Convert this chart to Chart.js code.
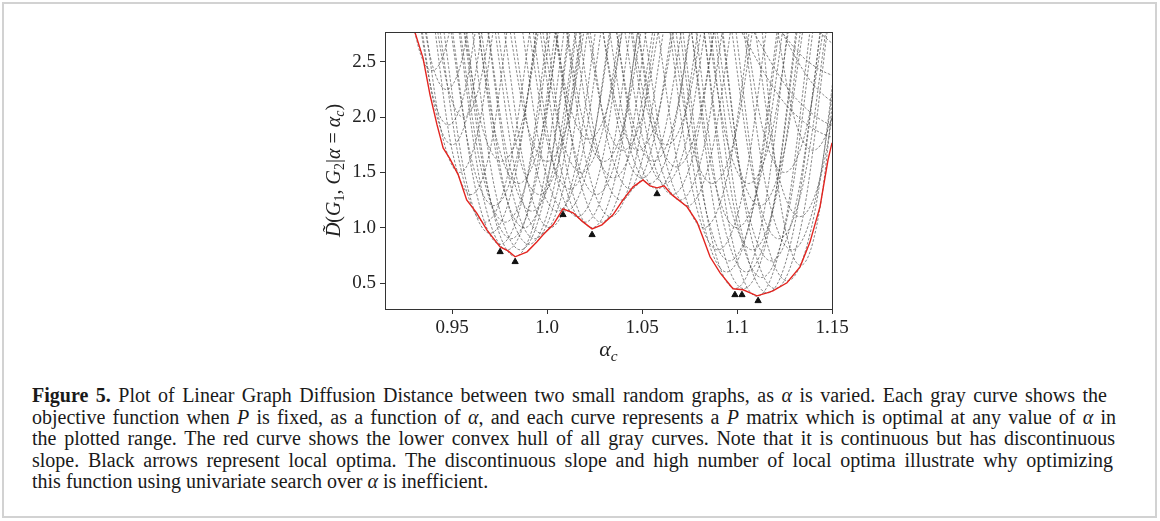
<!DOCTYPE html>
<html>
<head>
<meta charset="utf-8">
<script src="https://cdn.jsdelivr.net/npm/chart.js@4.4.1/dist/chart.umd.min.js"></script>
<style>
html, body { margin: 0; padding: 0; background: #fff; }
body { width: 1160px; height: 521px; position: relative; overflow: hidden; }
#frame { position: absolute; left: 2px; top: 2px; width: 1155px; height: 516px; border: 2px solid #d2d2d2; box-sizing: border-box; }
#chartBox { position: absolute; left: 0; top: 0; width: 1160px; height: 370px; }
#caption { position: absolute; left: 32px; top: 385px; font-family: "Liberation Serif", serif; font-size: 20px; line-height: 21.6px; color: #1a1a1a; }
#caption .ln { white-space: nowrap; }
#caption .ln span { display: inline-block; }
</style>
</head>
<body>
<div id="frame"></div>
<div id="chartBox"><canvas id="myChart"></canvas></div>
<div id="caption">
  <div class="ln"><span><b>Figure 5.</b> Plot of Linear Graph Diffusion Distance between two small random graphs, as <i>α</i> is varied. Each gray curve shows the</span></div>
  <div class="ln"><span>objective function when <i>P</i> is fixed, as a function of <i>α</i>, and each curve represents a <i>P</i> matrix which is optimal at any value of <i>α</i> in</span></div>
  <div class="ln"><span>the plotted range. The red curve shows the lower convex hull of all gray curves. Note that it is continuous but has discontinuous</span></div>
  <div class="ln"><span>slope. Black arrows represent local optima. The discontinuous slope and high number of local optima illustrate why optimizing</span></div>
  <div class="ln"><span>this function using univariate search over <i>α</i> is inefficient.</span></div>
</div>
<script>
// axis limits and ticks
var xMin = 0.9147, xMax = 1.15;
var yMin = 0.265, yMax = 2.77;
var xTickValues = [0.95, 1.0, 1.05, 1.1, 1.15];
var xTickLabels = ['0.95', '1.0', '1.05', '1.1', '1.15'];
var yTickValues = [0.5, 1.0, 1.5, 2.0, 2.5];
var yTickLabels = ['0.5', '1.0', '1.5', '2.0', '2.5'];

// red lower hull
var hullX = [0.9295, 0.9347, 0.9384, 0.9421, 0.9453, 0.9489, 0.9532, 0.9577, 0.9630, 0.9683,
    0.9753, 0.9795, 0.9832, 0.9895, 0.9947, 0.9979, 1.0032, 1.0084, 1.0137, 1.0189,
    1.0237, 1.0289, 1.0347, 1.0400, 1.0453, 1.0505, 1.0542, 1.0579, 1.0616, 1.0658,
    1.0737, 1.0789, 1.0821, 1.0858, 1.0911, 1.0979, 1.1032, 1.1105, 1.1158, 1.1189,
    1.1263, 1.1332, 1.1384, 1.1437, 1.1479, 1.1500];
var hullY = [2.82, 2.536, 2.202, 1.930, 1.722, 1.623, 1.480, 1.252, 1.132, 0.980,
    0.827, 0.790, 0.737, 0.782, 0.873, 0.936, 1.026, 1.171, 1.135, 1.053,
    0.990, 1.026, 1.117, 1.252, 1.370, 1.433, 1.379, 1.361, 1.379, 1.297,
    1.189, 1.053, 0.909, 0.737, 0.592, 0.448, 0.439, 0.384, 0.411, 0.429,
    0.502, 0.646, 0.870, 1.190, 1.614, 1.768];

// black arrows (local optima)
var optimaX = [0.9753, 0.9832, 1.0084, 1.0237, 1.0579, 1.0989, 1.1026, 1.1111];
var optimaY = [0.782, 0.692, 1.117, 0.936, 1.306, 0.393, 0.393, 0.339];

// gray curves, one per P matrix: points
var grayCurves = [
    [[0.9275, 3], [0.9335, 2.565], [0.9395, 2.42], [0.9455, 2.565], [0.9515, 3]],
    [[0.9333, 3], [0.9402, 2.4375], [0.947, 2.25], [0.9539, 2.4375], [0.9607, 3]],
    [[0.9316, 3], [0.9398, 2.1975], [0.948, 1.93], [0.9562, 2.1975], [0.9644, 3]],
    [[0.9323, 3], [0.9412, 2.0625], [0.95, 1.75], [0.9588, 2.0625], [0.9677, 3]],
    [[0.9346, 3], [0.9443, 1.875], [0.954, 1.5], [0.9637, 1.875], [0.9734, 3]],
    [[0.9394, 3], [0.9497, 1.725], [0.96, 1.3], [0.9703, 1.725], [0.9806, 3]],
    [[0.9402, 3], [0.9481, 2.25], [0.956, 2.0], [0.9639, 2.25], [0.9718, 3]],

    [[0.9418, 3], [0.9546, 1.5375], [0.9673, 1.05], [0.9801, 1.5375], [0.9928, 3]],
    [[0.9439, 3], [0.9569, 1.4625], [0.97, 0.95], [0.9831, 1.4625], [0.9961, 3]],
    [[0.9485, 3], [0.9619, 1.3875], [0.9753, 0.85], [0.9887, 1.3875], [1.0021, 3]],
    [[0.9519, 3], [0.9655, 1.35], [0.979, 0.8], [0.9925, 1.35], [1.0061, 3]],
    [[0.9558, 3], [0.9695, 1.305], [0.9832, 0.74], [0.9969, 1.305], [1.0107, 3]],
    [[0.9589, 3], [0.9725, 1.35], [0.986, 0.8], [0.9995, 1.35], [1.0131, 3]],
    [[0.9637, 3], [0.9771, 1.3875], [0.9905, 0.85], [1.0039, 1.3875], [1.0173, 3]],
    [[0.967, 3], [0.9803, 1.425], [0.9935, 0.9], [1.0067, 1.425], [1.02, 3]],
    [[0.9709, 3], [0.9839, 1.4625], [0.997, 0.95], [1.0101, 1.4625], [1.0231, 3]],
    [[0.9757, 3], [0.9886, 1.5], [1.0015, 1.0], [1.0144, 1.5], [1.0273, 3]],
    [[0.9807, 3], [0.9931, 1.6125], [1.0055, 1.15], [1.0179, 1.6125], [1.0303, 3]],
    [[0.9475, 3], [0.9598, 1.65], [0.972, 1.2], [0.9843, 1.65], [0.9965, 3]],
    [[0.9525, 3], [0.9653, 1.5375], [0.978, 1.05], [0.9908, 1.5375], [1.0035, 3]],
    [[0.9545, 3], [0.9678, 1.425], [0.981, 0.9], [0.9942, 1.425], [1.0075, 3]],
    [[0.9622, 3], [0.9751, 1.5], [0.988, 1.0], [1.0009, 1.5], [1.0138, 3]],
    [[0.9672, 3], [0.9796, 1.6125], [0.992, 1.15], [1.0044, 1.6125], [1.0168, 3]],
    [[0.9722, 3], [0.9841, 1.725], [0.996, 1.3], [1.0079, 1.725], [1.0198, 3]],
    [[0.9619, 3], [0.9735, 1.8], [0.985, 1.4], [0.9966, 1.8], [1.0081, 3]],
    [[0.9544, 3], [0.9652, 1.95], [0.976, 1.6], [0.9868, 1.95], [0.9976, 3]],
    [[0.9784, 3], [0.9892, 1.95], [1.0, 1.6], [1.0108, 1.95], [1.0216, 3]],

    [[0.9852, 3], [0.9976, 1.6125], [1.01, 1.15], [1.0224, 1.6125], [1.0348, 3]],
    [[0.9908, 3], [1.0034, 1.575], [1.016, 1.1], [1.0286, 1.575], [1.0412, 3]],
    [[0.9945, 3], [1.0073, 1.5375], [1.02, 1.05], [1.0328, 1.5375], [1.0455, 3]],
    [[0.9979, 3], [1.0108, 1.5], [1.0237, 1.0], [1.0366, 1.5], [1.0495, 3]],
    [[1.003, 3], [1.0158, 1.5375], [1.0285, 1.05], [1.0413, 1.5375], [1.054, 3]],
    [[1.0083, 3], [1.0209, 1.575], [1.0335, 1.1], [1.0461, 1.575], [1.0587, 3]],
    [[1.0149, 3], [1.0269, 1.6875], [1.039, 1.25], [1.0511, 1.6875], [1.0632, 3]],
    [[1.0206, 3], [1.0323, 1.7625], [1.044, 1.35], [1.0557, 1.7625], [1.0675, 3]],
    [[1.0273, 3], [1.0386, 1.8375], [1.05, 1.45], [1.0614, 1.8375], [1.0727, 3]],
    [[0.9886, 3], [1.0003, 1.7625], [1.012, 1.35], [1.0237, 1.7625], [1.0355, 3]],
    [[0.9956, 3], [1.0068, 1.875], [1.018, 1.5], [1.0292, 1.875], [1.0404, 3]],
    [[1.0022, 3], [1.0141, 1.725], [1.026, 1.3], [1.0379, 1.725], [1.0498, 3]],
    [[1.0084, 3], [1.0192, 1.95], [1.03, 1.6], [1.0408, 1.95], [1.0516, 3]],
    [[1.0123, 3], [1.0236, 1.8375], [1.035, 1.45], [1.0464, 1.8375], [1.0577, 3]],
    [[1.002, 3], [1.012, 2.1], [1.022, 1.8], [1.032, 2.1], [1.042, 3]],
    [[1.0192, 3], [1.0296, 2.025], [1.04, 1.7], [1.0504, 2.025], [1.0608, 3]],

    [[1.0345, 3], [1.0462, 1.7625], [1.0579, 1.35], [1.0696, 1.7625], [1.0814, 3]],
    [[1.0389, 3], [1.0505, 1.8], [1.062, 1.4], [1.0736, 1.8], [1.0851, 3]],
    [[1.0422, 3], [1.0541, 1.725], [1.066, 1.3], [1.0779, 1.725], [1.0898, 3]],
    [[1.0459, 3], [1.0579, 1.6875], [1.07, 1.25], [1.0821, 1.6875], [1.0942, 3]],
    [[1.0495, 3], [1.0618, 1.65], [1.074, 1.2], [1.0863, 1.65], [1.0985, 3]],
    [[1.0309, 3], [1.0425, 1.8], [1.054, 1.4], [1.0656, 1.8], [1.0771, 3]],
    [[1.0344, 3], [1.0452, 1.95], [1.056, 1.6], [1.0668, 1.95], [1.0776, 3]],
    [[1.0426, 3], [1.0528, 2.0625], [1.063, 1.75], [1.0732, 2.0625], [1.0834, 3]],
    [[1.0272, 3], [1.0376, 2.025], [1.048, 1.7], [1.0584, 2.025], [1.0688, 3]],
    [[1.046, 3], [1.057, 1.9125], [1.068, 1.55], [1.079, 1.9125], [1.09, 3]],

    [[1.0567, 3], [1.0696, 1.5], [1.0825, 1.0], [1.0954, 1.5], [1.1083, 3]],
    [[1.0629, 3], [1.0765, 1.35], [1.09, 0.8], [1.1035, 1.35], [1.1171, 3]],
    [[1.0662, 3], [1.0804, 1.2], [1.0945, 0.6], [1.1086, 1.2], [1.1228, 3]],
    [[1.0699, 3], [1.0844, 1.0875], [1.099, 0.45], [1.1136, 1.0875], [1.1282, 3]],
    [[1.0744, 3], [1.0889, 1.0875], [1.1035, 0.45], [1.1181, 1.0875], [1.1327, 3]],
    [[1.081, 3], [1.0957, 1.035], [1.1105, 0.38], [1.1253, 1.035], [1.14, 3]],
    [[1.0866, 3], [1.1013, 1.0575], [1.116, 0.41], [1.1307, 1.0575], [1.1454, 3]],
    [[1.0909, 3], [1.1054, 1.0875], [1.12, 0.45], [1.1346, 1.0875], [1.1491, 3]],
    [[1.0978, 3], [1.1121, 1.14], [1.1265, 0.52], [1.1409, 1.14], [1.1553, 3]],
    [[1.1119, 3], [1.1227, 1.245], [1.1335, 0.66], [1.1443, 1.245], [1.1551, 3]],
    [[1.0683, 3], [1.0822, 1.275], [1.096, 0.7], [1.1098, 1.275], [1.1237, 3]],
    [[1.0767, 3], [1.0909, 1.2], [1.105, 0.6], [1.1191, 1.2], [1.1333, 3]],
    [[1.0809, 3], [1.0945, 1.35], [1.108, 0.8], [1.1215, 1.35], [1.1351, 3]],
    [[1.0844, 3], [1.0987, 1.1625], [1.113, 0.55], [1.1273, 1.1625], [1.1416, 3]],
    [[1.0903, 3], [1.1042, 1.275], [1.118, 0.7], [1.1318, 1.275], [1.1457, 3]],
    [[1.0742, 3], [1.0871, 1.5], [1.1, 1.0], [1.1129, 1.5], [1.1258, 3]],
    [[1.0875, 3], [1.0998, 1.65], [1.112, 1.2], [1.1243, 1.65], [1.1365, 3]],
    [[1.0639, 3], [1.0755, 1.8], [1.087, 1.4], [1.0986, 1.8], [1.1101, 3]],
    [[1.0955, 3], [1.1088, 1.425], [1.122, 0.9], [1.1352, 1.425], [1.1485, 3]],
    [[1.0829, 3], [1.0945, 1.8], [1.106, 1.4], [1.1176, 1.8], [1.1291, 3]],
    [[1.1019, 3], [1.1155, 1.35], [1.129, 0.8], [1.1425, 1.35], [1.1561, 3]],
    [[1.1078, 3], [1.1204, 1.575], [1.133, 1.1], [1.1456, 1.575], [1.1582, 3]],
    [[1.1192, 3], [1.1296, 2.025], [1.14, 1.7], [1.1504, 2.025], [1.1608, 3]],
    [[1.1026, 3], [1.1138, 1.875], [1.125, 1.5], [1.1362, 1.875], [1.1474, 3]],

    [[1.1135, 3], [1.1367, 2.5125], [1.16, 2.35], [1.1833, 2.5125], [1.2066, 3]],
    [[1.1009, 3], [1.1315, 2.16], [1.162, 1.88], [1.1926, 2.16], [1.2231, 3]],
    [[1.0948, 3], [1.1264, 2.1], [1.158, 1.8], [1.1896, 2.1], [1.2213, 3]],
    [[1.1163, 3], [1.1406, 2.2875], [1.165, 2.05], [1.1894, 2.2875], [1.2137, 3]],
    [[1.1313, 3], [1.1506, 2.6625], [1.17, 2.55], [1.1894, 2.6625], [1.2087, 3]]
];

// caption line widths in the figure
var captionWidths = [1075, 1084, 1083, 1081];

var serif = '"Liberation Serif", "Times New Roman", serif';

function partFont(p, size) {
    var sub = p[1].indexOf('s') >= 0;
    var it = p[1].indexOf('i') >= 0;
    return (it ? 'italic ' : '') + (sub ? size * 0.7 : size) + 'px ' + serif;
}

function richWidth(ctx, parts, size) {
    var w = 0;
    parts.forEach(function (p) {
        ctx.font = partFont(p, size);
        w += ctx.measureText(p[0]).width;
    });
    return w;
}

function drawRich(ctx, parts, size, x, y) {
    parts.forEach(function (p) {
        ctx.font = partFont(p, size);
        var dy = p[1].indexOf('s') >= 0 ? size * 0.22 : 0;
        ctx.fillText(p[0], x, y + dy);
        x += ctx.measureText(p[0]).width;
    });
}

var yTitle = [['D\u0303', 'i'], ['(', 'r'], ['G', 'i'], ['1', 's'], [', ', 'r'], ['G', 'i'], ['2', 's'],
    ['|', 'r'], ['α', 'i'], [' = ', 'r'], ['α', 'i'], ['c', 'si'], [')', 'r']];
var xTitle = [['α', 'i'], ['c', 'si']];

var framePlugin = {
    id: 'frameAndTitles',
    afterDraw: function (chart) {
        var ctx = chart.ctx;
        var a = chart.chartArea;
        ctx.save();
        ctx.strokeStyle = '#333';
        ctx.lineWidth = 1;
        ctx.strokeRect(Math.round(a.left) + 0.5, Math.round(a.top) + 0.5,
            Math.round(a.right - a.left), Math.round(a.bottom - a.top));

        ctx.fillStyle = '#222';
        ctx.textBaseline = 'alphabetic';
        var w = richWidth(ctx, xTitle, 22);
        drawRich(ctx, xTitle, 22, (a.left + a.right) / 2 - w / 2, a.bottom + 47);

        ctx.translate(a.left - 52, (a.top + a.bottom) / 2);
        ctx.rotate(-Math.PI / 2);
        w = richWidth(ctx, yTitle, 20);
        drawRich(ctx, yTitle, 20, -w / 2, 7);
        ctx.restore();
    }
};

function buildDatasets() {
    var datasets = [];
    datasets.push({
        data: optimaX.map(function (x, i) { return { x: x, y: optimaY[i] }; }),
        showLine: false,
        pointStyle: 'triangle',
        pointRadius: 3.6,
        backgroundColor: '#111',
        borderColor: '#111',
        borderWidth: 1,
        order: 0
    });
    datasets.push({
        data: hullX.map(function (x, i) { return { x: x, y: hullY[i] }; }),
        borderColor: '#e3241f',
        borderWidth: 1.4,
        pointRadius: 0,
        tension: 0,
        order: 1
    });
    grayCurves.forEach(function (c) {
        datasets.push({
            data: c,
            borderColor: 'rgba(70,70,70,0.72)',
            borderWidth: 0.9,
            borderDash: [2.6, 1.7],
            pointRadius: 0,
            cubicInterpolationMode: 'monotone',
            order: 2
        });
    });
    return datasets;
}

function createChart() {
    var tickFont = { family: serif, size: 19 };
    var config = {
        type: 'line',
        data: { datasets: buildDatasets() },
        options: {
            responsive: true,
            maintainAspectRatio: false,
            animation: false,
            layout: { padding: { left: 325, right: 328, top: 32, bottom: 21 } },
            plugins: { legend: { display: false }, tooltip: { enabled: false } },
            scales: {
                x: {
                    type: 'linear',
                    min: xMin,
                    max: xMax,
                    afterBuildTicks: function (s) { s.ticks = xTickValues.map(function (v) { return { value: v }; }); },
                    afterFit: function (s) { s.height = 40; },
                    ticks: {
                        font: tickFont, color: '#222', padding: 3, maxRotation: 0,
                        callback: function (v, i) { return xTickLabels[i]; }
                    },
                    grid: { drawOnChartArea: false, drawTicks: true, tickLength: 5, color: '#333' },
                    border: { display: false }
                },
                y: {
                    type: 'linear',
                    min: yMin,
                    max: yMax,
                    afterBuildTicks: function (s) { s.ticks = yTickValues.map(function (v) { return { value: v }; }); },
                    afterFit: function (s) { s.width = 60; },
                    ticks: {
                        font: tickFont, color: '#222', padding: 4,
                        callback: function (v, i) { return yTickLabels[i]; }
                    },
                    grid: { drawOnChartArea: false, drawTicks: true, tickLength: 5, color: '#333' },
                    border: { display: false }
                }
            }
        },
        plugins: [framePlugin]
    };
    new Chart(document.getElementById('myChart'), config);
}

function fitCaption() {
    var lines = document.querySelectorAll('#caption .ln span');
    for (var i = 0; i < captionWidths.length; i++) {
        var el = lines[i];
        var spaces = (el.textContent.match(/ /g) || []).length;
        var extra = captionWidths[i] - el.getBoundingClientRect().width;
        el.style.wordSpacing = (extra / spaces) + 'px';
    }
}

createChart();
fitCaption();
</script>
</body>
</html>
